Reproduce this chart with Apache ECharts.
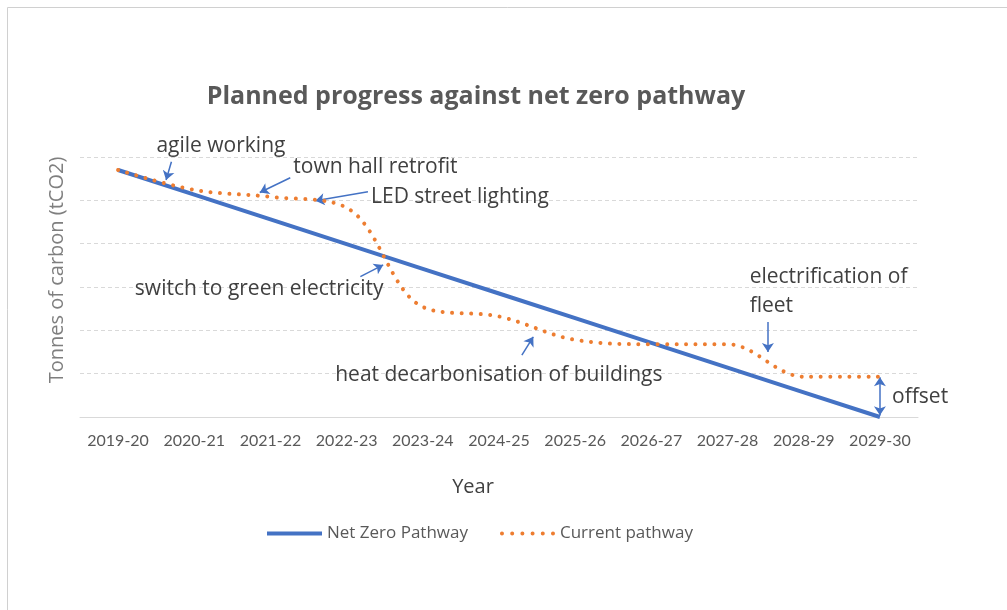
<!DOCTYPE html>
<html>
<head>
<meta charset="utf-8">
<script src="https://cdn.jsdelivr.net/npm/echarts@6/dist/echarts.min.js"></script>
<style>
html,body{margin:0;padding:0;background:#fff;}
#chart{width:1007px;height:610px;}
</style>
</head>
<body>
<div id="chart"></div>
<script>
const categories = ['2019-20','2020-21','2021-22','2022-23','2023-24','2024-25','2025-26','2026-27','2027-28','2028-29','2029-30'];
const netZeroPathway = [5.70, 5.13, 4.56, 3.99, 3.42, 2.85, 2.28, 1.71, 1.14, 0.57, 0.00];
const currentPathway = [5.70, 5.24, 5.08, 4.83, 2.54, 2.32, 1.78, 1.68, 1.68, 0.93, 0.93];

// annotation texts: [text, x (category index), y (value), align]
const annotationTexts = [
  ['agile working', 1.35, 6.25, 'center'],
  ['town hall retrofit', 2.30, 5.77, 'left'],
  ['LED street lighting', 3.32, 5.08, 'left'],
  ['switch to green electricity', 0.22, 2.95, 'left'],
  ['heat decarbonisation of buildings', 2.85, 0.97, 'left'],
  ['electrification of\nfleet', 8.29, 2.90, 'left'],
  ['offset', 10.16, 0.46, 'left']
];
// annotation arrows: from [x,y] to [x,y]
const arrowFrom = [[0.70,5.89],[2.26,5.52],[3.28,5.20],[3.18,3.24],[5.30,1.43],[8.53,2.19],[10.0,0.92]];
const arrowTo   = [[0.63,5.47],[1.86,5.18],[2.59,4.99],[3.48,3.51],[5.45,1.85],[8.53,1.50],[10.0,0.04]];
const arrowBoth = [false,false,false,false,false,false,true];

const FONT = '"Open Sans", Lato, sans-serif';
const chart = echarts.init(document.getElementById('chart'));

const arrowData = arrowFrom.map((f,i)=>({
  coords:[f, arrowTo[i]],
  symbol: arrowBoth[i] ? ['arrow','arrow'] : ['none','arrow']
}));

// dotted legend icon path (6 round dots)
let dotPath = 'path://';
for (let k = 0; k < 6; k++) {
  const cx = 2 + k * 10.2;
  dotPath += 'M' + (cx - 2) + ',2a2,2 0 1,0 4,0a2,2 0 1,0 -4,0z';
}

chart.setOption({
  backgroundColor:'#ffffff',
  animation:false,
  title:{
    text:'Planned progress against net zero pathway',
    left:471, top:79, textAlign:'center',
    textStyle:{fontFamily:FONT, fontSize:25, fontWeight:'bold', color:'#595959'}
  },
  legend:{
    data:[
      {name:'Net Zero Pathway', icon:'rect'},
      {name:'Current pathway', icon:dotPath}
    ],
    left:262, bottom:63, itemWidth:55, itemHeight:4, itemGap:32,
    textStyle:{fontFamily:FONT, fontSize:17, color:'#595959'}
  },
  grid:{left:80, right:89, top:157, bottom:193},
  xAxis:[{
    type:'category', data:categories, boundaryGap:true,
    axisTick:{show:false},
    axisLine:{lineStyle:{color:'#d9d9d9', width:1}},
    axisLabel:{fontFamily:'Lato, sans-serif', fontSize:16, color:'#595959', margin:16, interval:0},
    name:'Year', nameLocation:'middle', nameGap:60,
    nameTextStyle:{fontFamily:FONT, fontSize:20, color:'#404040', padding:[0,52,0,0]}
  },{
    type:'value', min:-0.5, max:10.5, show:false
  }],
  yAxis:{
    type:'value', min:0, max:6, interval:1,
    axisLabel:{show:false}, axisTick:{show:false}, axisLine:{show:false},
    splitLine:{lineStyle:{color:'#d9d9d9', type:[4,3], width:1}},
    name:'Tonnes of carbon (tCO2)', nameLocation:'middle', nameGap:13,
    nameTextStyle:{fontFamily:FONT, fontSize:20, color:'#7f7f7f', padding:[0,0,0,34]}
  },
  series:[{
    name:'Net Zero Pathway', type:'line', data:netZeroPathway,
    symbol:'none', lineStyle:{color:'#4472C4', width:4}, itemStyle:{color:'#4472C4'}
  },{
    name:'Current pathway', type:'line', data:currentPathway,
    symbol:'none', smooth:0.35,
    lineStyle:{color:'#ED7D31', width:4, type:[0.01,9.5], cap:'round'},
    itemStyle:{color:'#ED7D31'}
  },{
    name:'annotations', type:'lines', coordinateSystem:'cartesian2d',
    xAxisIndex:1, yAxisIndex:0, data:arrowData,
    symbolSize:9, silent:true,
    lineStyle:{color:'#4472C4', width:1.5, opacity:1}
  }]
});

const graphics = [{
  type:'rect', shape:{x:7.5, y:7.5, width:1100, height:700},
  style:{fill:'none', stroke:'#d0d0d0', lineWidth:1}, silent:true, z:-10
}];
annotationTexts.forEach(a=>{
  const px = chart.convertToPixel({xAxisIndex:1}, a[1]);
  const py = chart.convertToPixel({yAxisIndex:0}, a[2]);
  graphics.push({
    type:'text', x:px, y:py, z:100,
    style:{text:a[0], fontFamily:FONT, fontSize:21, fill:'#404040',
      align:a[3], verticalAlign:'middle', lineHeight:29}
  });
});
chart.setOption({graphic:graphics});
</script>
</body>
</html>
